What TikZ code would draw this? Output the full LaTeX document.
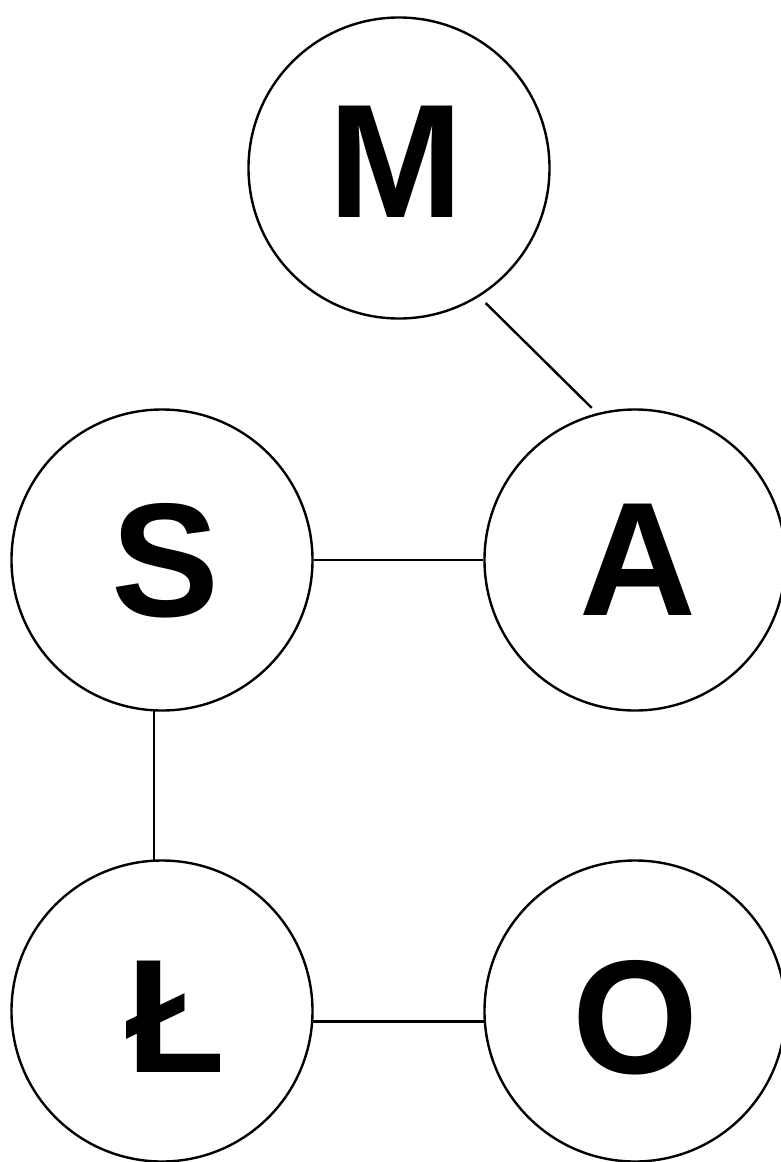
\documentclass[tikz,border=0pt]{standalone}
\usepackage{fontspec}
\setmainfont{Liberation Sans}
\begin{document}
\begin{tikzpicture}[x=1pt,y=-1pt,
  vert/.style={circle,draw=black,line width=2.4pt,minimum size=301pt,inner sep=0pt,fill=white},
  lbl/.style={inner sep=0pt,anchor=center,text height=116pt,text depth=0pt,
    font=\fontsize{162}{162}\selectfont\bfseries},
  edge/.style={draw=black,line width=2.4pt}]
\useasboundingbox[fill=white] (0,0) rectangle (780,1162);
\node[vert,label={[lbl,name=Mt,xshift=-3pt,yshift=9pt]center:M}] (M) at (399,168) {};
\node[vert,label={[lbl,name=St,xshift=4pt,yshift=2pt]center:S}] (S) at (162,560) {};
\node[vert,label={[lbl,name=At,xshift=3pt,yshift=2.5pt]center:A}] (A) at (635,560) {};
\node[vert,label={[lbl,name=Lt,xshift=13.5pt,yshift=-3pt]center:Ł}] (L) at (162,1011) {};
\node[vert,label={[lbl,name=Ot,xshift=0pt,yshift=-4pt]center:O}] (O) at (635,1011) {};
\draw[edge] ([shift={(4pt,-7.8pt)}]M.-57) -- ([shift={(-1.5pt,6.3pt)}]A.106);
\draw[edge] (S) -- (A);
\draw[edge] (S.-93) -- (L.93);
\draw[edge] (L.-4) -- (O.184);
\end{tikzpicture}
\end{document}
